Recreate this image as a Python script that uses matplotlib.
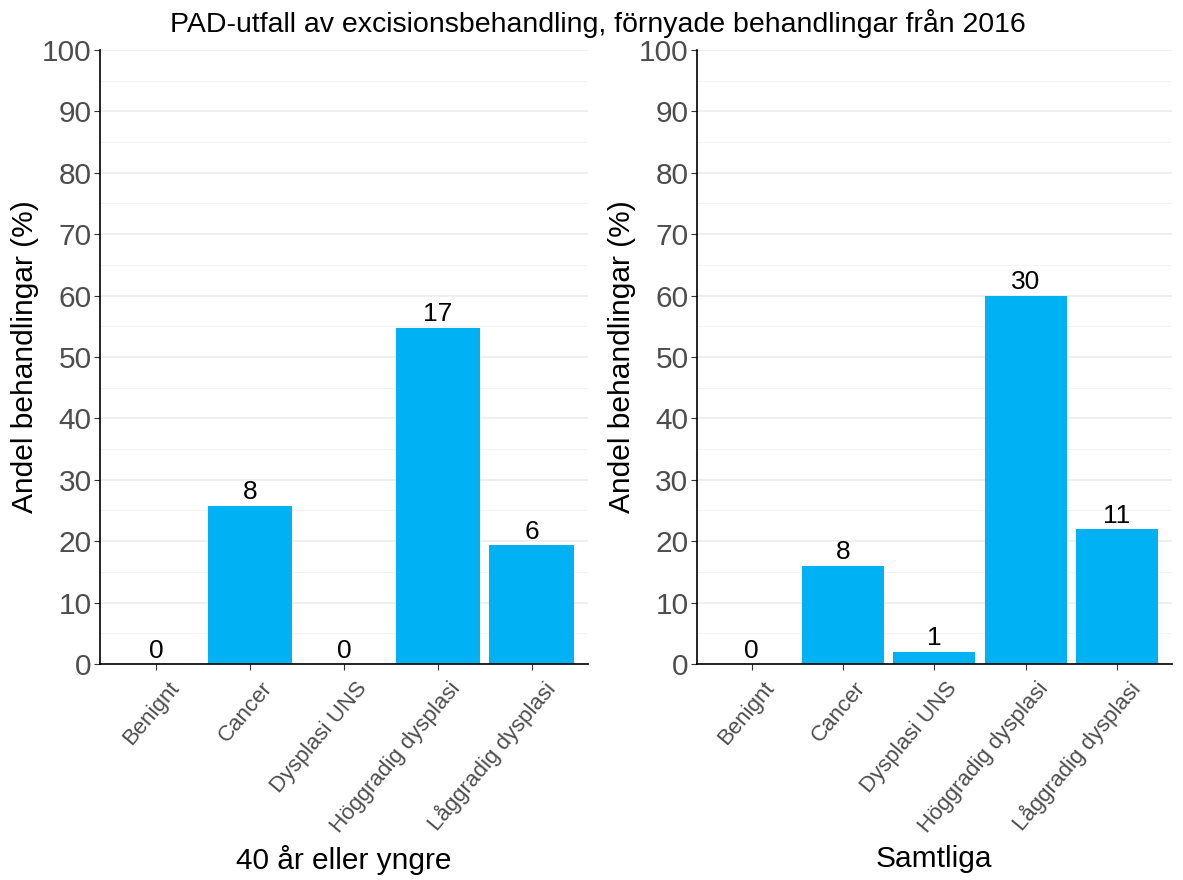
import matplotlib.pyplot as plt
import matplotlib.transforms as mtransforms
from matplotlib.ticker import MultipleLocator

plt.rcParams['font.family'] = ['Liberation Sans', 'DejaVu Sans']

categories = ["Benignt", "Cancer", "Dysplasi UNS", "Höggradig dysplasi", "Låggradig dysplasi"]

# 40 år eller yngre
young_counts = [0, 8, 0, 17, 6]
young_pct = [0, 25.8, 0, 54.8, 19.4]

# Samtliga
all_counts = [0, 8, 1, 30, 11]
all_pct = [0, 16.0, 2.0, 60.0, 22.0]

title = "PAD-utfall av excisionsbehandling, förnyade behandlingar från 2016"
ylabel = "Andel behandlingar (%)"
bar_color = "#00B2F3"


def draw_panel(fig, ax, pct, counts, xlabel):
    x = list(range(len(categories)))
    ax.bar(x, pct, width=0.9, color=bar_color, zorder=2)
    for xi, p, c in zip(x, pct, counts):
        ax.text(xi, p + 0.2, str(c), ha="center", va="bottom", fontsize=19, color="black", zorder=3)
    ax.set_xlim(-0.6, len(categories) - 0.4)
    ax.set_ylim(0, 100)
    ax.yaxis.set_major_locator(MultipleLocator(10))
    ax.yaxis.set_minor_locator(MultipleLocator(5))
    ax.grid(which="major", axis="y", color="#EBEBEB", lw=1.1, zorder=0)
    ax.grid(which="minor", axis="y", color="#F2F2F2", lw=0.6, zorder=0)
    ax.set_axisbelow(True)
    for s in ["top", "right"]:
        ax.spines[s].set_visible(False)
    for s in ["left", "bottom"]:
        ax.spines[s].set_color("black")
        ax.spines[s].set_linewidth(1.2)
    ax.tick_params(axis="y", which="major", labelsize=21.5, labelcolor="#4D4D4D", length=4, color="#333333", pad=2)
    ax.tick_params(axis="y", which="minor", length=0)
    ax.tick_params(axis="x", length=4, color="#333333", labelsize=16, labelcolor="#4D4D4D", pad=6)
    ax.set_xticks(x)
    ax.set_xticklabels(categories, rotation=50, ha="right", va="top", rotation_mode="anchor")
    # nudge rotated labels right so they end just past the tick
    shift = mtransforms.ScaledTranslation(8 / 72, 0, fig.dpi_scale_trans)
    for lab in ax.get_xticklabels():
        lab.set_transform(lab.get_transform() + shift)
    ax.set_ylabel(ylabel, fontsize=21.5, color="black", labelpad=2)
    ax.set_xlabel(xlabel, fontsize=21.5, color="black", labelpad=6)


fig = plt.figure(figsize=(11.83, 8.80), dpi=100)
ax1 = fig.add_axes([0.0845, 0.2455, 0.4125, 0.6977])
ax2 = fig.add_axes([0.589, 0.2455, 0.4015, 0.6977])

draw_panel(fig, ax1, young_pct, young_counts, "40 år eller yngre")
draw_panel(fig, ax2, all_pct, all_counts, "Samtliga")

fig.text(0.505, 0.973, title, ha="center", va="center", fontsize=20.5)

fig.savefig("out.png", dpi=100)
